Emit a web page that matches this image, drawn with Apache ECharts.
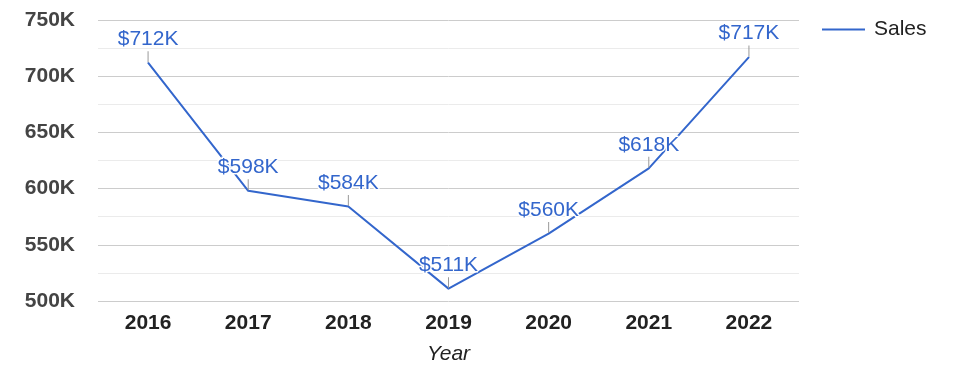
<!DOCTYPE html>
<html>
<head>
<meta charset="utf-8">
<script src="https://cdn.jsdelivr.net/npm/echarts@6/dist/echarts.min.js"></script>
<style>
  html, body { margin: 0; padding: 0; background: #fff; }
  #main { width: 975px; height: 378px; }
</style>
</head>
<body>
<div id="main"></div>
<script>
// data
const years = ['2016', '2017', '2018', '2019', '2020', '2021', '2022'];
const sales = [712000, 598000, 584000, 511000, 560000, 618000, 717000];
const yTicks = [500000, 550000, 600000, 650000, 700000, 750000];

const font = 'Arial, "Liberation Sans", sans-serif';
const blue = '#3366cc';

const myChart = echarts.init(document.querySelector('#main'));

let option = {
    animation: false,
    textStyle: { fontFamily: font },
    grid: {
        left: 98,
        right: 176,
        top: 20,
        bottom: 77,
        containLabel: false
    },
    legend: {
        left: 817,
        top: 14,
        itemWidth: 43,
        itemHeight: 2,
        data: [{ name: 'Sales', icon: 'rect' }],
        textStyle: {
            fontSize: 21,
            color: '#222',
            padding: [0, 0, 0, 4]
        }
    },
    xAxis: {
        type: 'category',
        data: years,
        name: 'Year',
        nameLocation: 'middle',
        nameGap: 43,
        nameTextStyle: {
            fontSize: 21,
            fontStyle: 'italic',
            color: '#222'
        },
        axisLine: { show: false },
        axisTick: { show: false },
        axisLabel: {
            fontSize: 21,
            fontWeight: 'bold',
            color: '#222',
            margin: 12
        }
    },
    yAxis: {
        type: 'value',
        min: yTicks[0],
        max: yTicks[yTicks.length - 1],
        interval: 50000,
        axisLine: { show: false },
        axisTick: { show: false },
        axisLabel: {
            fontSize: 21,
            fontWeight: 'bold',
            color: '#444',
            margin: 23,
            formatter: v => (v / 1000) + 'K'
        },
        splitLine: { lineStyle: { color: '#cccccc', width: 1 } },
        minorTick: { show: false, splitNumber: 2 },
        minorSplitLine: { show: true, lineStyle: { color: '#ebebeb', width: 1 } }
    },
    series: [
        {
            name: 'Sales',
            type: 'line',
            data: sales,
            symbol: 'circle',
            symbolSize: 1,
            itemStyle: { color: blue },
            lineStyle: { color: blue, width: 2 },
            label: {
                show: true,
                position: 'top',
                distance: 0,
                formatter: p => '{v|$' + (p.value / 1000) + 'K}\n{l|}',
                rich: {
                    v: {
                        fontSize: 21,
                        color: blue,
                        fontFamily: font,
                        lineHeight: 24,
                        textBorderColor: '#fff',
                        textBorderWidth: 3
                    },
                    l: {
                        width: 1,
                        height: 11,
                        backgroundColor: '#999999'
                    }
                }
            },
            emphasis: { disabled: true }
        }
    ]
};

myChart.setOption(option, true);
</script>
</body>
</html>
